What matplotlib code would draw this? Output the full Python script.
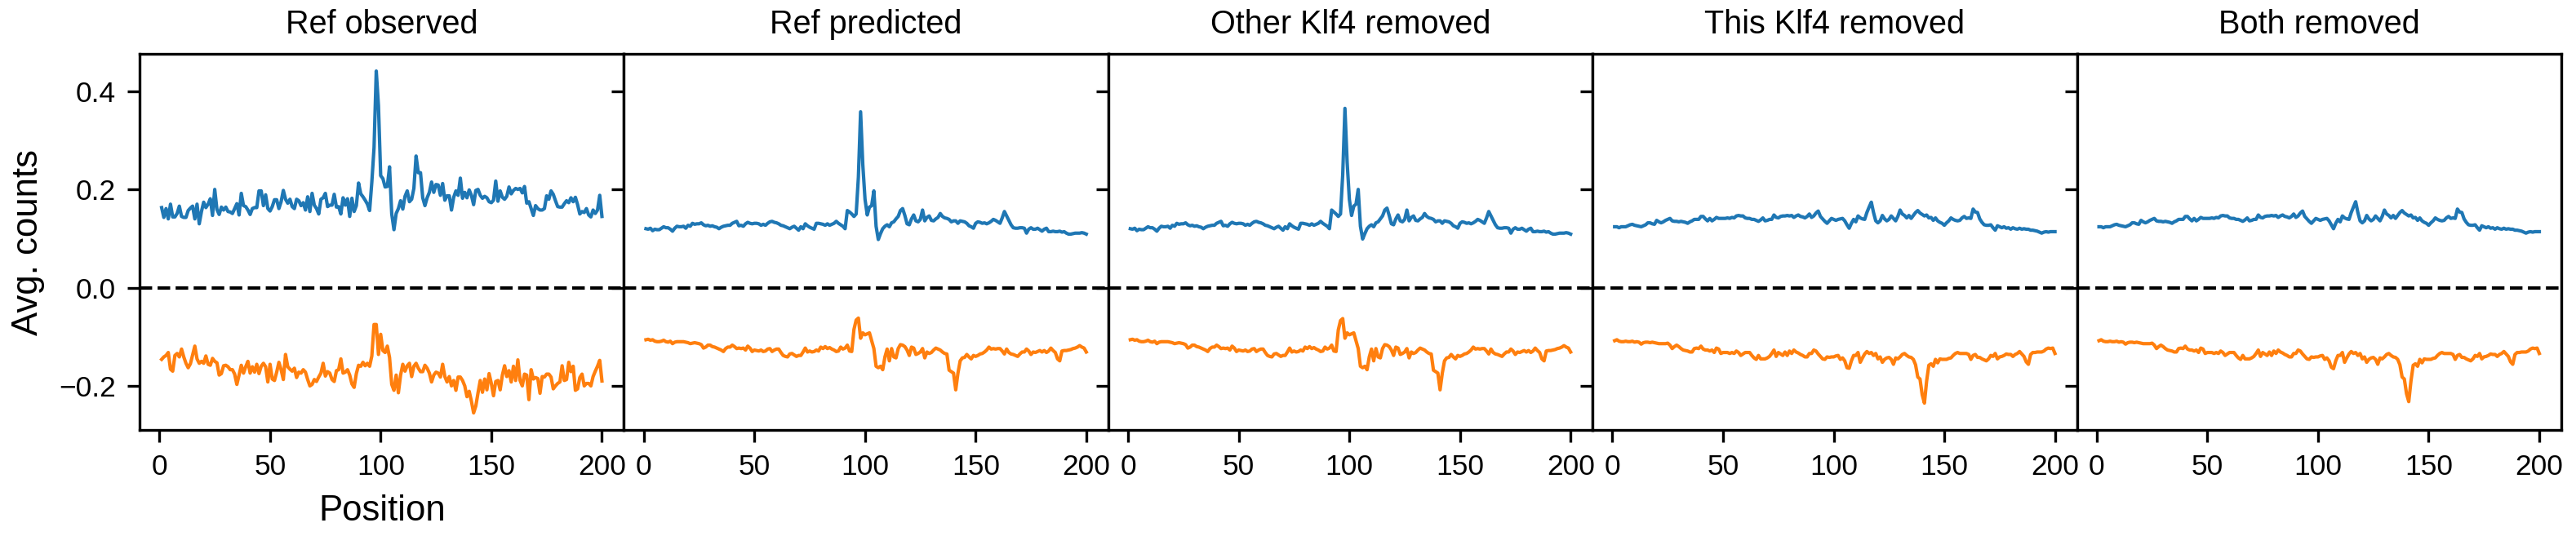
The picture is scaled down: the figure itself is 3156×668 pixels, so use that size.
import numpy as np
import matplotlib
matplotlib.use("Agg")
import matplotlib.pyplot as plt

plt.rcParams['font.family'] = ['Liberation Sans', 'DejaVu Sans']

titles = ["Ref observed", "Ref predicted", "Other Klf4 removed", "This Klf4 removed", "Both removed"]
xticks = [0, 50, 100, 150, 200]
yticks = [-0.2, 0.0, 0.2, 0.4]

# positions 1..200, one value per position
obs_fwd = [
    0.163, 0.143, 0.161, 0.140, 0.170, 0.144, 0.144, 0.151, 0.166, 0.145,
    0.143, 0.143, 0.157, 0.162, 0.166, 0.140, 0.170, 0.130, 0.155, 0.174,
    0.163, 0.170, 0.181, 0.147, 0.200, 0.159, 0.149, 0.164, 0.158, 0.164,
    0.155, 0.154, 0.151, 0.161, 0.171, 0.148, 0.192, 0.167, 0.165, 0.158,
    0.149, 0.161, 0.163, 0.163, 0.197, 0.197, 0.167, 0.189, 0.161, 0.156,
    0.165, 0.179, 0.179, 0.161, 0.175, 0.198, 0.180, 0.172, 0.180, 0.165,
    0.161, 0.180, 0.177, 0.167, 0.173, 0.158, 0.185, 0.155, 0.192, 0.168,
    0.161, 0.150, 0.180, 0.183, 0.192, 0.165, 0.168, 0.168, 0.190, 0.164,
    0.165, 0.150, 0.183, 0.168, 0.181, 0.145, 0.182, 0.155, 0.167, 0.213,
    0.191, 0.185, 0.178, 0.170, 0.157, 0.215, 0.285, 0.441, 0.370, 0.228,
    0.222, 0.205, 0.206, 0.246, 0.150, 0.118, 0.151, 0.161, 0.177, 0.160,
    0.186, 0.197, 0.175, 0.180, 0.202, 0.268, 0.234, 0.234, 0.183, 0.167,
    0.183, 0.194, 0.215, 0.194, 0.210, 0.209, 0.188, 0.212, 0.178, 0.187,
    0.187, 0.158, 0.184, 0.197, 0.188, 0.223, 0.182, 0.194, 0.183, 0.199,
    0.188, 0.169, 0.198, 0.200, 0.188, 0.182, 0.186, 0.183, 0.175, 0.173,
    0.178, 0.217, 0.176, 0.197, 0.184, 0.180, 0.186, 0.205, 0.191, 0.198,
    0.202, 0.200, 0.202, 0.193, 0.206, 0.172, 0.175, 0.161, 0.147, 0.167,
    0.161, 0.158, 0.158, 0.161, 0.187, 0.180, 0.197, 0.190, 0.177, 0.165,
    0.164, 0.164, 0.171, 0.177, 0.173, 0.183, 0.175, 0.184, 0.169, 0.150,
    0.155, 0.153, 0.161, 0.148, 0.144, 0.158, 0.151, 0.158, 0.188, 0.145,
]
obs_rev = [
    -0.146, -0.141, -0.138, -0.132, -0.166, -0.170, -0.138, -0.134, -0.141, -0.125,
    -0.141, -0.154, -0.163, -0.155, -0.137, -0.119, -0.145, -0.154, -0.150, -0.154,
    -0.139, -0.156, -0.158, -0.144, -0.150, -0.153, -0.178, -0.175, -0.159, -0.158,
    -0.161, -0.167, -0.167, -0.176, -0.197, -0.178, -0.158, -0.174, -0.161, -0.150,
    -0.174, -0.161, -0.172, -0.156, -0.175, -0.160, -0.154, -0.161, -0.192, -0.156,
    -0.186, -0.189, -0.172, -0.152, -0.167, -0.187, -0.136, -0.161, -0.166, -0.170,
    -0.164, -0.183, -0.172, -0.174, -0.167, -0.172, -0.187, -0.200, -0.197, -0.187,
    -0.191, -0.182, -0.174, -0.154, -0.180, -0.171, -0.174, -0.187, -0.191, -0.169,
    -0.167, -0.145, -0.174, -0.172, -0.167, -0.178, -0.196, -0.203, -0.175, -0.158,
    -0.160, -0.152, -0.159, -0.154, -0.160, -0.139, -0.075, -0.075, -0.136, -0.095,
    -0.128, -0.132, -0.119, -0.142, -0.197, -0.209, -0.178, -0.214, -0.178, -0.156,
    -0.170, -0.159, -0.154, -0.181, -0.160, -0.154, -0.164, -0.171, -0.171, -0.158,
    -0.164, -0.174, -0.192, -0.178, -0.172, -0.174, -0.182, -0.156, -0.181, -0.192,
    -0.181, -0.200, -0.189, -0.209, -0.182, -0.182, -0.189, -0.200, -0.222, -0.211,
    -0.231, -0.255, -0.241, -0.214, -0.189, -0.213, -0.186, -0.208, -0.175, -0.195,
    -0.220, -0.191, -0.189, -0.208, -0.178, -0.159, -0.181, -0.169, -0.192, -0.160,
    -0.189, -0.147, -0.189, -0.200, -0.176, -0.178, -0.228, -0.167, -0.186, -0.183,
    -0.185, -0.215, -0.181, -0.182, -0.176, -0.176, -0.182, -0.206, -0.200, -0.195,
    -0.192, -0.159, -0.189, -0.187, -0.152, -0.171, -0.160, -0.209, -0.206, -0.183,
    -0.176, -0.200, -0.195, -0.195, -0.200, -0.181, -0.170, -0.160, -0.148, -0.190,
]
pred_fwd = [
    0.120, 0.119, 0.121, 0.116, 0.119, 0.118, 0.118, 0.121, 0.124, 0.122,
    0.122, 0.119, 0.115, 0.121, 0.125, 0.124, 0.124, 0.125, 0.121, 0.127,
    0.125, 0.131, 0.129, 0.130, 0.130, 0.132, 0.128, 0.126, 0.127, 0.125,
    0.126, 0.124, 0.123, 0.120, 0.123, 0.125, 0.126, 0.127, 0.127, 0.131,
    0.133, 0.135, 0.126, 0.127, 0.125, 0.130, 0.133, 0.131, 0.130, 0.131,
    0.131, 0.130, 0.127, 0.129, 0.127, 0.131, 0.134, 0.135, 0.133, 0.132,
    0.130, 0.127, 0.126, 0.124, 0.122, 0.120, 0.123, 0.125, 0.121, 0.117,
    0.124, 0.120, 0.130, 0.126, 0.123, 0.121, 0.119, 0.131, 0.131, 0.130,
    0.129, 0.127, 0.130, 0.127, 0.129, 0.131, 0.135, 0.131, 0.128, 0.125,
    0.120, 0.157, 0.154, 0.150, 0.145, 0.150, 0.225, 0.358, 0.250, 0.180,
    0.148, 0.164, 0.167, 0.197, 0.125, 0.098, 0.110, 0.120, 0.125, 0.128,
    0.124, 0.132, 0.134, 0.140, 0.145, 0.157, 0.161, 0.147, 0.130, 0.128,
    0.140, 0.148, 0.136, 0.134, 0.139, 0.158, 0.136, 0.143, 0.146, 0.137,
    0.136, 0.140, 0.143, 0.151, 0.145, 0.142, 0.141, 0.139, 0.134, 0.136,
    0.136, 0.131, 0.136, 0.135, 0.134, 0.131, 0.126, 0.124, 0.121, 0.131,
    0.134, 0.133, 0.131, 0.132, 0.130, 0.132, 0.135, 0.139, 0.137, 0.134,
    0.131, 0.142, 0.155, 0.146, 0.137, 0.128, 0.122, 0.121, 0.121, 0.122,
    0.122, 0.121, 0.111, 0.119, 0.122, 0.119, 0.119, 0.121, 0.118, 0.115,
    0.119, 0.121, 0.114, 0.114, 0.115, 0.114, 0.114, 0.115, 0.113, 0.114,
    0.111, 0.109, 0.109, 0.110, 0.111, 0.111, 0.111, 0.112, 0.111, 0.109,
]
pred_rev = [
    -0.106, -0.105, -0.107, -0.106, -0.109, -0.110, -0.110, -0.109, -0.107, -0.110,
    -0.111, -0.109, -0.114, -0.111, -0.110, -0.110, -0.110, -0.110, -0.111, -0.112,
    -0.114, -0.113, -0.112, -0.113, -0.114, -0.116, -0.123, -0.121, -0.117, -0.117,
    -0.120, -0.121, -0.123, -0.125, -0.127, -0.130, -0.124, -0.121, -0.121, -0.117,
    -0.120, -0.124, -0.123, -0.124, -0.123, -0.127, -0.119, -0.123, -0.130, -0.127,
    -0.128, -0.129, -0.127, -0.130, -0.129, -0.125, -0.124, -0.130, -0.127, -0.125,
    -0.125, -0.132, -0.138, -0.140, -0.141, -0.135, -0.134, -0.137, -0.140, -0.138,
    -0.138, -0.131, -0.123, -0.131, -0.129, -0.131, -0.130, -0.127, -0.129, -0.121,
    -0.124, -0.120, -0.124, -0.122, -0.125, -0.127, -0.130, -0.129, -0.121, -0.125,
    -0.123, -0.117, -0.129, -0.130, -0.085, -0.066, -0.062, -0.103, -0.092, -0.096,
    -0.094, -0.092, -0.108, -0.124, -0.160, -0.163, -0.160, -0.167, -0.141, -0.125,
    -0.149, -0.124, -0.141, -0.143, -0.124, -0.116, -0.117, -0.120, -0.127, -0.138,
    -0.121, -0.123, -0.136, -0.134, -0.131, -0.124, -0.143, -0.131, -0.134, -0.132,
    -0.127, -0.123, -0.125, -0.127, -0.131, -0.134, -0.135, -0.168, -0.171, -0.174,
    -0.208, -0.174, -0.149, -0.143, -0.142, -0.136, -0.141, -0.145, -0.138, -0.140,
    -0.138, -0.135, -0.134, -0.131, -0.127, -0.121, -0.125, -0.124, -0.125, -0.124,
    -0.124, -0.129, -0.135, -0.125, -0.132, -0.135, -0.136, -0.138, -0.140, -0.135,
    -0.131, -0.131, -0.125, -0.129, -0.136, -0.131, -0.132, -0.130, -0.128, -0.131,
    -0.128, -0.132, -0.129, -0.123, -0.128, -0.132, -0.145, -0.149, -0.129, -0.128,
    -0.128, -0.127, -0.126, -0.124, -0.123, -0.121, -0.118, -0.121, -0.123, -0.131,
]
other_fwd = [
    0.120, 0.119, 0.121, 0.116, 0.119, 0.118, 0.118, 0.121, 0.124, 0.122,
    0.122, 0.119, 0.115, 0.121, 0.125, 0.124, 0.124, 0.125, 0.121, 0.127,
    0.125, 0.131, 0.129, 0.130, 0.130, 0.132, 0.128, 0.126, 0.127, 0.125,
    0.126, 0.124, 0.123, 0.120, 0.123, 0.125, 0.126, 0.127, 0.127, 0.131,
    0.133, 0.135, 0.126, 0.127, 0.125, 0.130, 0.133, 0.131, 0.130, 0.131,
    0.131, 0.130, 0.127, 0.129, 0.127, 0.131, 0.134, 0.135, 0.133, 0.132,
    0.130, 0.127, 0.126, 0.124, 0.122, 0.120, 0.123, 0.125, 0.121, 0.117,
    0.124, 0.120, 0.130, 0.126, 0.123, 0.121, 0.119, 0.131, 0.131, 0.130,
    0.129, 0.127, 0.130, 0.127, 0.129, 0.131, 0.135, 0.131, 0.128, 0.125,
    0.120, 0.158, 0.154, 0.150, 0.145, 0.150, 0.230, 0.365, 0.255, 0.180,
    0.147, 0.166, 0.170, 0.200, 0.125, 0.099, 0.110, 0.120, 0.125, 0.128,
    0.124, 0.132, 0.134, 0.140, 0.146, 0.158, 0.162, 0.147, 0.130, 0.128,
    0.140, 0.148, 0.136, 0.134, 0.139, 0.158, 0.136, 0.143, 0.146, 0.137,
    0.136, 0.140, 0.143, 0.151, 0.145, 0.142, 0.141, 0.139, 0.134, 0.136,
    0.136, 0.131, 0.136, 0.135, 0.134, 0.131, 0.126, 0.124, 0.121, 0.131,
    0.134, 0.133, 0.131, 0.132, 0.130, 0.132, 0.135, 0.139, 0.137, 0.134,
    0.131, 0.142, 0.155, 0.146, 0.137, 0.128, 0.122, 0.121, 0.121, 0.122,
    0.122, 0.121, 0.111, 0.119, 0.122, 0.119, 0.119, 0.121, 0.118, 0.115,
    0.119, 0.121, 0.114, 0.114, 0.115, 0.114, 0.114, 0.115, 0.113, 0.114,
    0.111, 0.109, 0.109, 0.110, 0.111, 0.111, 0.111, 0.112, 0.111, 0.109,
]
other_rev = [
    -0.106, -0.105, -0.107, -0.106, -0.109, -0.110, -0.110, -0.109, -0.107, -0.110,
    -0.111, -0.109, -0.114, -0.111, -0.110, -0.110, -0.110, -0.110, -0.111, -0.112,
    -0.114, -0.113, -0.112, -0.113, -0.114, -0.116, -0.123, -0.121, -0.117, -0.117,
    -0.120, -0.121, -0.123, -0.125, -0.127, -0.130, -0.124, -0.121, -0.121, -0.117,
    -0.120, -0.124, -0.123, -0.124, -0.123, -0.127, -0.119, -0.123, -0.130, -0.127,
    -0.128, -0.129, -0.127, -0.130, -0.129, -0.125, -0.124, -0.130, -0.127, -0.125,
    -0.125, -0.132, -0.138, -0.140, -0.141, -0.135, -0.134, -0.137, -0.140, -0.138,
    -0.138, -0.131, -0.123, -0.131, -0.129, -0.131, -0.130, -0.127, -0.129, -0.121,
    -0.124, -0.120, -0.124, -0.122, -0.125, -0.127, -0.130, -0.129, -0.121, -0.125,
    -0.123, -0.117, -0.129, -0.130, -0.086, -0.067, -0.063, -0.103, -0.092, -0.096,
    -0.094, -0.092, -0.108, -0.124, -0.160, -0.163, -0.160, -0.167, -0.141, -0.125,
    -0.149, -0.124, -0.141, -0.143, -0.124, -0.116, -0.117, -0.120, -0.127, -0.138,
    -0.121, -0.123, -0.136, -0.134, -0.131, -0.124, -0.143, -0.131, -0.134, -0.132,
    -0.127, -0.123, -0.125, -0.127, -0.131, -0.134, -0.135, -0.168, -0.171, -0.174,
    -0.208, -0.174, -0.149, -0.143, -0.142, -0.136, -0.141, -0.145, -0.138, -0.140,
    -0.138, -0.135, -0.134, -0.131, -0.127, -0.121, -0.125, -0.124, -0.125, -0.124,
    -0.124, -0.129, -0.135, -0.125, -0.132, -0.135, -0.136, -0.138, -0.140, -0.135,
    -0.131, -0.131, -0.125, -0.129, -0.136, -0.131, -0.132, -0.130, -0.128, -0.131,
    -0.128, -0.132, -0.129, -0.123, -0.128, -0.132, -0.145, -0.149, -0.129, -0.128,
    -0.128, -0.127, -0.126, -0.124, -0.123, -0.121, -0.118, -0.121, -0.123, -0.131,
]
this_fwd = [
    0.124, 0.124, 0.122, 0.124, 0.124, 0.124, 0.126, 0.128, 0.129, 0.127,
    0.126, 0.125, 0.124, 0.126, 0.128, 0.132, 0.132, 0.130, 0.129, 0.137,
    0.134, 0.132, 0.134, 0.137, 0.139, 0.141, 0.136, 0.135, 0.135, 0.134,
    0.135, 0.134, 0.133, 0.131, 0.134, 0.136, 0.139, 0.139, 0.139, 0.145,
    0.145, 0.140, 0.136, 0.141, 0.136, 0.139, 0.143, 0.141, 0.141, 0.141,
    0.141, 0.142, 0.141, 0.143, 0.142, 0.146, 0.147, 0.146, 0.146, 0.142,
    0.141, 0.141, 0.139, 0.139, 0.137, 0.135, 0.138, 0.142, 0.136, 0.137,
    0.139, 0.139, 0.148, 0.143, 0.142, 0.145, 0.146, 0.146, 0.147, 0.146,
    0.147, 0.143, 0.146, 0.148, 0.145, 0.144, 0.142, 0.145, 0.150, 0.143,
    0.146, 0.152, 0.156, 0.145, 0.140, 0.135, 0.131, 0.136, 0.141, 0.139,
    0.137, 0.139, 0.140, 0.141, 0.136, 0.128, 0.121, 0.131, 0.139, 0.134,
    0.146, 0.142, 0.140, 0.139, 0.153, 0.164, 0.174, 0.153, 0.136, 0.132,
    0.136, 0.147, 0.140, 0.136, 0.139, 0.146, 0.141, 0.136, 0.145, 0.158,
    0.150, 0.147, 0.142, 0.147, 0.141, 0.147, 0.153, 0.157, 0.152, 0.149,
    0.146, 0.148, 0.142, 0.143, 0.137, 0.142, 0.136, 0.133, 0.131, 0.127,
    0.132, 0.136, 0.142, 0.139, 0.137, 0.136, 0.137, 0.142, 0.145, 0.141,
    0.142, 0.141, 0.160, 0.154, 0.153, 0.140, 0.133, 0.128, 0.127, 0.127,
    0.128, 0.122, 0.117, 0.126, 0.124, 0.122, 0.124, 0.121, 0.122, 0.119,
    0.122, 0.120, 0.119, 0.121, 0.119, 0.120, 0.119, 0.119, 0.117, 0.117,
    0.116, 0.115, 0.113, 0.111, 0.113, 0.114, 0.113, 0.114, 0.114, 0.114,
]
this_rev = [
    -0.108, -0.106, -0.109, -0.110, -0.110, -0.109, -0.110, -0.110, -0.109, -0.111,
    -0.110, -0.111, -0.115, -0.112, -0.111, -0.111, -0.112, -0.111, -0.112, -0.113,
    -0.114, -0.114, -0.114, -0.114, -0.113, -0.117, -0.124, -0.120, -0.117, -0.120,
    -0.124, -0.127, -0.128, -0.129, -0.131, -0.131, -0.124, -0.123, -0.124, -0.119,
    -0.125, -0.127, -0.127, -0.129, -0.127, -0.132, -0.123, -0.125, -0.134, -0.132,
    -0.132, -0.132, -0.134, -0.132, -0.134, -0.129, -0.132, -0.138, -0.135, -0.132,
    -0.132, -0.132, -0.138, -0.143, -0.146, -0.138, -0.145, -0.145, -0.145, -0.143,
    -0.140, -0.134, -0.127, -0.140, -0.132, -0.135, -0.138, -0.131, -0.138, -0.129,
    -0.134, -0.127, -0.131, -0.133, -0.136, -0.138, -0.141, -0.141, -0.134, -0.134,
    -0.127, -0.129, -0.135, -0.140, -0.145, -0.146, -0.141, -0.142, -0.141, -0.141,
    -0.139, -0.138, -0.146, -0.143, -0.149, -0.163, -0.164, -0.149, -0.138, -0.138,
    -0.132, -0.152, -0.143, -0.135, -0.130, -0.134, -0.132, -0.138, -0.134, -0.145,
    -0.141, -0.152, -0.146, -0.143, -0.142, -0.146, -0.156, -0.143, -0.145, -0.141,
    -0.136, -0.134, -0.138, -0.141, -0.142, -0.146, -0.157, -0.182, -0.186, -0.218,
    -0.235, -0.190, -0.158, -0.155, -0.160, -0.146, -0.153, -0.145, -0.146, -0.146,
    -0.146, -0.144, -0.143, -0.138, -0.134, -0.132, -0.134, -0.134, -0.134, -0.134,
    -0.136, -0.146, -0.138, -0.136, -0.142, -0.142, -0.145, -0.147, -0.149, -0.145,
    -0.138, -0.140, -0.134, -0.145, -0.141, -0.140, -0.138, -0.135, -0.136, -0.136,
    -0.140, -0.136, -0.134, -0.130, -0.135, -0.140, -0.151, -0.156, -0.136, -0.132,
    -0.132, -0.131, -0.131, -0.131, -0.129, -0.125, -0.123, -0.124, -0.123, -0.134,
]
both_fwd = [
    0.124, 0.124, 0.122, 0.124, 0.124, 0.124, 0.126, 0.128, 0.129, 0.127,
    0.126, 0.125, 0.124, 0.126, 0.128, 0.132, 0.132, 0.130, 0.129, 0.137,
    0.134, 0.132, 0.134, 0.137, 0.139, 0.141, 0.136, 0.135, 0.135, 0.134,
    0.135, 0.134, 0.133, 0.131, 0.134, 0.136, 0.139, 0.139, 0.139, 0.145,
    0.145, 0.140, 0.136, 0.141, 0.136, 0.139, 0.143, 0.141, 0.141, 0.141,
    0.141, 0.142, 0.141, 0.143, 0.142, 0.146, 0.147, 0.146, 0.146, 0.142,
    0.141, 0.141, 0.139, 0.139, 0.137, 0.135, 0.138, 0.142, 0.136, 0.137,
    0.139, 0.139, 0.148, 0.143, 0.142, 0.145, 0.146, 0.146, 0.147, 0.146,
    0.147, 0.143, 0.146, 0.148, 0.145, 0.144, 0.142, 0.145, 0.150, 0.143,
    0.146, 0.152, 0.156, 0.145, 0.140, 0.135, 0.131, 0.136, 0.141, 0.139,
    0.137, 0.139, 0.140, 0.141, 0.136, 0.128, 0.120, 0.131, 0.139, 0.134,
    0.146, 0.142, 0.140, 0.139, 0.153, 0.164, 0.175, 0.153, 0.136, 0.132,
    0.136, 0.147, 0.140, 0.136, 0.139, 0.146, 0.141, 0.136, 0.145, 0.158,
    0.150, 0.147, 0.142, 0.147, 0.141, 0.147, 0.153, 0.157, 0.152, 0.149,
    0.146, 0.148, 0.142, 0.143, 0.137, 0.142, 0.136, 0.133, 0.131, 0.127,
    0.132, 0.136, 0.142, 0.139, 0.137, 0.136, 0.137, 0.142, 0.145, 0.141,
    0.142, 0.141, 0.160, 0.154, 0.153, 0.140, 0.133, 0.128, 0.127, 0.127,
    0.128, 0.122, 0.117, 0.126, 0.124, 0.122, 0.124, 0.121, 0.122, 0.119,
    0.122, 0.120, 0.119, 0.121, 0.119, 0.120, 0.119, 0.119, 0.117, 0.117,
    0.116, 0.115, 0.113, 0.111, 0.113, 0.114, 0.113, 0.114, 0.114, 0.114,
]
both_rev = [
    -0.108, -0.106, -0.109, -0.110, -0.110, -0.109, -0.110, -0.110, -0.109, -0.111,
    -0.110, -0.111, -0.115, -0.112, -0.111, -0.111, -0.112, -0.111, -0.112, -0.113,
    -0.114, -0.114, -0.114, -0.114, -0.113, -0.117, -0.124, -0.120, -0.117, -0.120,
    -0.124, -0.127, -0.128, -0.129, -0.131, -0.131, -0.124, -0.123, -0.124, -0.119,
    -0.125, -0.127, -0.127, -0.129, -0.127, -0.132, -0.123, -0.125, -0.134, -0.132,
    -0.132, -0.132, -0.134, -0.132, -0.134, -0.129, -0.132, -0.138, -0.135, -0.132,
    -0.132, -0.132, -0.138, -0.143, -0.146, -0.138, -0.145, -0.145, -0.145, -0.143,
    -0.140, -0.134, -0.127, -0.140, -0.132, -0.135, -0.138, -0.131, -0.138, -0.129,
    -0.134, -0.127, -0.131, -0.133, -0.136, -0.138, -0.141, -0.141, -0.134, -0.134,
    -0.127, -0.129, -0.135, -0.140, -0.145, -0.146, -0.141, -0.142, -0.141, -0.141,
    -0.139, -0.138, -0.146, -0.143, -0.149, -0.162, -0.165, -0.149, -0.138, -0.138,
    -0.132, -0.152, -0.143, -0.135, -0.130, -0.134, -0.132, -0.138, -0.134, -0.145,
    -0.141, -0.152, -0.146, -0.143, -0.142, -0.146, -0.156, -0.143, -0.145, -0.141,
    -0.136, -0.134, -0.138, -0.141, -0.142, -0.146, -0.157, -0.182, -0.186, -0.216,
    -0.232, -0.190, -0.158, -0.155, -0.160, -0.146, -0.153, -0.145, -0.146, -0.146,
    -0.146, -0.144, -0.143, -0.138, -0.134, -0.132, -0.134, -0.134, -0.134, -0.134,
    -0.136, -0.146, -0.138, -0.136, -0.142, -0.142, -0.145, -0.147, -0.149, -0.145,
    -0.138, -0.140, -0.134, -0.145, -0.141, -0.140, -0.138, -0.135, -0.136, -0.136,
    -0.140, -0.136, -0.134, -0.130, -0.135, -0.140, -0.151, -0.156, -0.136, -0.132,
    -0.132, -0.131, -0.131, -0.131, -0.129, -0.125, -0.123, -0.124, -0.123, -0.134,
]

panels = [
    (obs_fwd, obs_rev),
    (pred_fwd, pred_rev),
    (other_fwd, other_rev),
    (this_fwd, this_rev),
    (both_fwd, both_rev),
]
positions = np.arange(1, len(obs_fwd) + 1)

fig, axes = plt.subplots(1, 5, figsize=(10.52, 2.2267), dpi=300, sharey=True)
fig.subplots_adjust(left=0.0542, right=0.9943, top=0.901, bottom=0.211, wspace=0)

for ax, title, (fwd, rev) in zip(axes, titles, panels):
    ax.plot(positions, fwd, color='#1f77b4', lw=1.0)
    ax.plot(positions, rev, color='#ff7f0e', lw=1.0)
    ax.axhline(0, color='black', lw=1.0, ls='--')
    ax.set_title(title, fontsize=9.5)
    ax.set_xticks(xticks)
    ax.set_yticks(yticks)
    ax.tick_params(labelsize=8.5)

axes[0].set_ylabel('Avg. counts', fontsize=10.5)
axes[0].set_xlabel('Position', fontsize=10.5)

fig.savefig('out.png', dpi=300)
